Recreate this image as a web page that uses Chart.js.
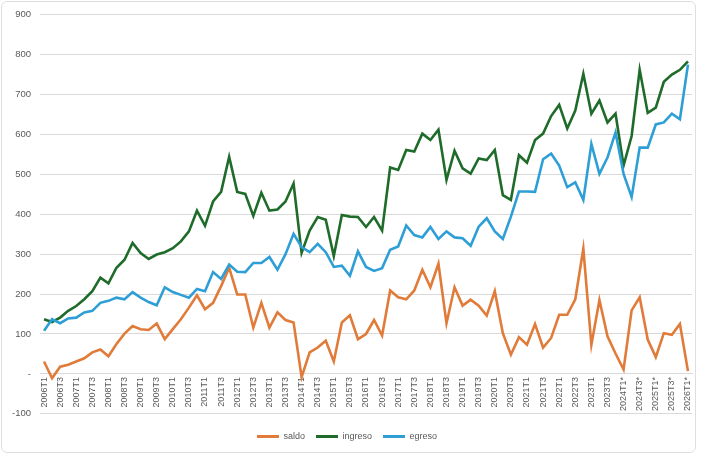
<!DOCTYPE html>
<html>
<head>
<meta charset="utf-8">
<script src="https://cdn.jsdelivr.net/npm/chart.js@4.4.1/dist/chart.umd.min.js"></script>
<style>
  html, body { margin: 0; padding: 0; background: #fff; }
  #marco { position: relative; width: 708px; height: 458px; }
  #borde { position: absolute; left: 1px; top: 1px; width: 693px; height: 450px;
           border: 1px solid #dedede; border-radius: 6px; pointer-events: none; }
</style>
</head>
<body>
<div id="marco">
  <canvas id="grafico"></canvas>
  <div id="borde"></div>
</div>
<script>
const trimestres = [
  '2006T1', '2006T2', '2006T3', '2006T4', '2007T1', '2007T2', '2007T3', '2007T4',
  '2008T1', '2008T2', '2008T3', '2008T4', '2009T1', '2009T2', '2009T3', '2009T4',
  '2010T1', '2010T2', '2010T3', '2010T4', '2011T1', '2011T2', '2011T3', '2011T4',
  '2012T1', '2012T2', '2012T3', '2012T4', '2013T1', '2013T2', '2013T3', '2013T4',
  '2014T1', '2014T2', '2014T3', '2014T4', '2015T1', '2015T2', '2015T3', '2015T4',
  '2016T1', '2016T2', '2016T3', '2016T4', '2017T1', '2017T2', '2017T3', '2017T4',
  '2018T1', '2018T2', '2018T3', '2018T4', '2019T1', '2019T2', '2019T3', '2019T4',
  '2020T1', '2020T2', '2020T3', '2020T4', '2021T1', '2021T2', '2021T3', '2021T4',
  '2022T1', '2022T2', '2022T3', '2022T4', '2023T1', '2023T2', '2023T3', '2023T4',
  '2024T1*', '2024T2*', '2024T3*', '2024T4*', '2025T1*', '2025T2*', '2025T3*', '2025T4*',
  '2026T1*'
]

const saldo = [
  31, -11, 18, 23, 31, 39, 54, 61, 44, 75, 101,
  120, 112, 110, 126, 87, 112, 137, 166, 197, 162,
  178, 220, 266, 199, 199, 116, 178, 116, 154, 135,
  129, -8, 54, 66, 83, 31, 129, 147, 87, 100,
  135, 96, 209, 192, 187, 209, 261, 217, 276, 127,
  217, 171, 186, 171, 146, 207, 102, 48, 92, 73,
  125, 66, 90, 148, 148, 187, 314, 73, 185, 94,
  51, 11, 159, 192, 86, 42, 102, 98, 125, 7
]

const ingreso = [
  137, 130, 141, 158, 170, 187, 207, 241, 227, 266, 286,
  328, 303, 288, 299, 305, 315, 332, 357, 409, 371,
  432, 456, 544, 456, 451, 396, 454, 409, 412, 432,
  477, 303, 359, 393, 386, 295, 398, 394, 393, 368,
  393, 359, 517, 511, 561, 557, 602, 586, 612, 486,
  559, 515, 502, 540, 536, 561, 448, 436, 548, 529,
  586, 602, 646, 674, 615, 660, 752, 652, 685, 630,
  652, 522, 596, 762, 654, 667, 732, 750, 762, 783
]

const egreso = [
  108, 137, 127, 139, 141, 154, 158, 178, 183, 191, 187,
  205, 191, 180, 172, 217, 205, 198, 191, 213, 207,
  255, 238, 274, 256, 255, 278, 278, 293, 261, 300,
  351, 318, 305, 326, 305, 268, 271, 246, 307, 268,
  258, 265, 311, 319, 372, 348, 342, 368, 338, 357,
  342, 340, 321, 369, 390, 357, 338, 394, 457, 457,
  456, 538, 552, 522, 468, 480, 436, 576, 501, 542,
  605, 501, 443, 567, 567, 625, 630, 652, 638, 775
]

const textoGris = '#595959'
const rejilla = '#d9d9d9'

function serie(nombre, valores, color, orden) {
    return {
        label: nombre,
        data: valores,
        borderColor: color,
        backgroundColor: color,
        borderWidth: 2.6,
        pointRadius: 0,
        tension: 0,
        order: orden
    }
}

const cfg = {
    type: 'line',
    data: {
        labels: trimestres,
        datasets: [
            serie('saldo', saldo, '#E07B3A', 3),
            serie('ingreso', ingreso, '#1F6B2A', 2),
            serie('egreso', egreso, '#2E9FD6', 1)
        ]
    },
    options: {
        maintainAspectRatio: false,
        responsive: true,
        animation: false,
        layout: { padding: { top: 8, right: 16, left: 2, bottom: 7 } },
        scales: {
            x: {
                position: { y: 0 },
                offset: true,
                grid: { display: false, drawTicks: false },
                border: { color: rejilla },
                ticks: {
                    autoSkip: false,
                    minRotation: 90,
                    maxRotation: 90,
                    padding: 3,
                    color: textoGris,
                    font: { family: 'Liberation Sans', size: 9 },
                    callback: function (v, i) {
                        return i % 2 === 0 ? this.getLabelForValue(v) : null
                    }
                }
            },
            y: {
                min: -100,
                max: 900,
                afterFit: s => { s.width = 38 },
                grid: { color: rejilla, drawTicks: false },
                border: { display: false },
                ticks: {
                    stepSize: 100,
                    padding: 9,
                    color: textoGris,
                    font: { family: 'Liberation Sans', size: 9.5 },
                    callback: v => (v === 0 ? '-' : v)
                }
            }
        },
        plugins: {
            tooltip: { enabled: false },
            legend: {
                position: 'bottom',
                // titulo vacio: solo empuja la leyenda hacia abajo
                title: { display: true, text: '', font: { size: 1 }, padding: { top: 6, bottom: 0 } },
                labels: {
                    boxWidth: 22,
                    boxHeight: 3,
                    padding: 11,
                    color: textoGris,
                    font: { family: 'Liberation Sans', size: 9 },
                    sort: (a, b) => a.datasetIndex - b.datasetIndex,
                    generateLabels: chart => Chart.defaults.plugins.legend.labels
                        .generateLabels(chart).map(it => Object.assign(it, { lineWidth: 0 }))
                }
            }
        }
    }
}

const ctx = document.getElementById('grafico').getContext('2d')
const grafico = new Chart(ctx, cfg)
</script>
</body>
</html>
